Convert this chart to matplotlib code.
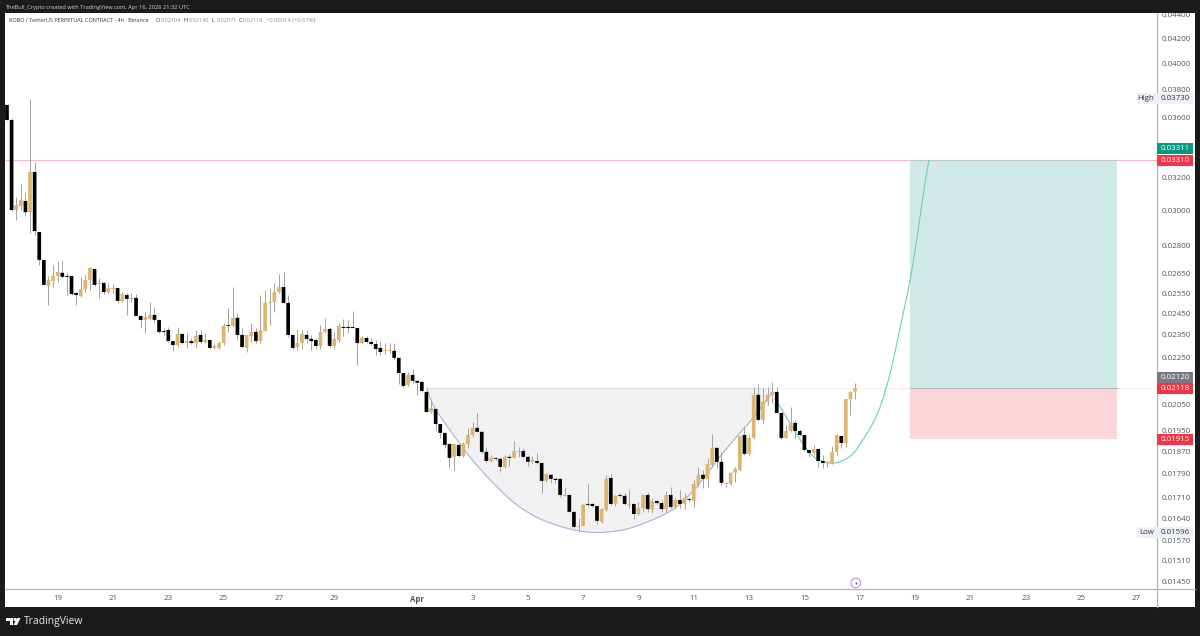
import numpy as np
import matplotlib
matplotlib.use('Agg')
import matplotlib.pyplot as plt
from matplotlib.patches import Rectangle, Polygon, Circle, PathPatch
from matplotlib.path import Path
from matplotlib.ticker import NullLocator, NullFormatter

plt.rcParams['font.family'] = ['Open Sans', 'DejaVu Sans']

# 4h candles
opens = [
    .03687, .03580, .03001, .03025, .03055, .02989, .03233, .02875, .02722, .02587,
    .02612, .02638, .02654, .02638, .02638, .02551, .02536, .02571, .02617, .02674,
    .02597, .02602, .02556, .02571, .02576, .02512, .02541, .02522, .02527, .02439,
    .02420, .02425, .02444, .02420, .02368, .02373, .02322, .02304, .02355, .02313,
    .02322, .02313, .02350, .02318, .02327, .02291, .02291, .02313, .02396, .02392,
    .02430, .02350, .02291, .02345, .02364, .02322, .02368, .02502, .02507, .02556,
    .02581, .02502, .02350, .02295, .02313, .02350, .02332, .02327, .02300, .02364,
    .02378, .02300, .02327, .02387, .02387, .02387, .02382, .02313, .02336, .02318,
    .02309, .02291, .02278, .02278, .02278, .02247, .02181, .02131, .02173, .02148,
    .02144, .02102, .02021, .02033, .01974, .01940, .01898, .01851, .01895, .01854,
    .01898, .01932, .01959, .01944, .01869, .01836, .01847, .01844, .01815, .01851,
    .01847, .01869, .01872, .01851, .01833, .01836, .01829, .01766, .01787, .01773,
    .01773, .01715, .01718, .01662, .01614, .01617, .01688, .01688, .01681, .01630,
    .01668, .01776, .01688, .01718, .01715, .01685, .01688, .01655, .01675, .01718,
    .01671, .01698, .01691, .01671, .01718, .01678, .01701, .01688, .01704, .01698,
    .01752, .01787, .01773, .01822, .01884, .01833, .01755, .01755, .01794, .01804,
    .01932, .01862, .01921, .02090, .01990, .02061, .02090, .02102, .02017, .01921,
    .01947, .01978, .01947, .01932, .01876, .01865, .01880, .01836, .01829, .01829,
    .01869, .01928, .01902, .02073, .02104]
highs = [
    .03687, .03594, .03079, .03158, .03103, .03730, .03297, .02875, .02722, .02638,
    .02695, .02717, .02722, .02654, .02638, .02556, .02633, .02643, .02685, .02680,
    .02627, .02607, .02602, .02597, .02576, .02556, .02551, .02551, .02546, .02444,
    .02458, .02507, .02483, .02420, .02382, .02387, .02327, .02387, .02355, .02359,
    .02336, .02373, .02373, .02359, .02327, .02313, .02322, .02406, .02478, .02581,
    .02454, .02382, .02350, .02406, .02382, .02541, .02566, .02576, .02602, .02648,
    .02659, .02541, .02350, .02378, .02373, .02373, .02350, .02336, .02396, .02430,
    .02387, .02364, .02406, .02425, .02420, .02463, .02382, .02345, .02345, .02336,
    .02327, .02322, .02313, .02313, .02313, .02247, .02181, .02186, .02198, .02148,
    .02144, .02106, .02069, .02033, .01974, .01940, .01902, .01898, .01895, .01906,
    .01959, .01982, .02017, .01944, .01887, .01858, .01851, .01847, .01858, .01862,
    .01910, .01887, .01884, .01858, .01854, .01865, .01829, .01794, .01790, .01776,
    .01773, .01745, .01718, .01662, .01642, .01688, .01755, .01691, .01681, .01675,
    .01787, .01790, .01718, .01725, .01725, .01738, .01688, .01694, .01721, .01728,
    .01708, .01701, .01698, .01732, .01745, .01708, .01735, .01725, .01711, .01769,
    .01815, .01804, .01847, .01936, .01884, .01869, .01762, .01797, .01815, .01932,
    .01963, .01932, .02123, .02135, .02119, .02123, .02144, .02123, .02017, .01971,
    .02041, .01990, .01955, .01932, .01876, .01895, .01880, .01858, .01836, .01891,
    .01936, .01928, .02073, .02106, .02140]
lows = [
    .03580, .02995, .02943, .03001, .02966, .02869, .02858, .02695, .02592, .02492,
    .02581, .02607, .02627, .02541, .02541, .02492, .02532, .02556, .02566, .02587,
    .02527, .02546, .02551, .02551, .02502, .02507, .02444, .02507, .02439, .02382,
    .02359, .02420, .02411, .02359, .02350, .02318, .02278, .02295, .02309, .02291,
    .02309, .02291, .02313, .02313, .02286, .02286, .02286, .02304, .02364, .02387,
    .02327, .02291, .02273, .02318, .02313, .02313, .02368, .02396, .02458, .02551,
    .02502, .02341, .02286, .02282, .02286, .02313, .02282, .02286, .02286, .02359,
    .02295, .02291, .02318, .02345, .02359, .02382, .02216, .02309, .02313, .02304,
    .02260, .02260, .02264, .02269, .02238, .02135, .02123, .02127, .02140, .02090,
    .02102, .02021, .02017, .01951, .01921, .01884, .01815, .01800, .01851, .01851,
    .01884, .01925, .01944, .01865, .01833, .01833, .01840, .01797, .01811, .01818,
    .01847, .01851, .01847, .01818, .01829, .01826, .01725, .01762, .01759, .01759,
    .01711, .01715, .01662, .01611, .01598, .01617, .01681, .01678, .01623, .01627,
    .01665, .01685, .01681, .01711, .01685, .01675, .01639, .01652, .01662, .01662,
    .01659, .01688, .01662, .01662, .01675, .01675, .01675, .01671, .01694, .01678,
    .01745, .01742, .01745, .01815, .01811, .01749, .01745, .01752, .01762, .01800,
    .01858, .01854, .01917, .01986, .01978, .02049, .02057, .02017, .01917, .01921,
    .01944, .01921, .01928, .01872, .01851, .01858, .01815, .01811, .01815, .01826,
    .01858, .01884, .01887, .02009, .02071]
closes = [
    .03580, .03001, .03031, .03061, .02989, .03233, .02880, .02722, .02592, .02617,
    .02638, .02659, .02633, .02633, .02546, .02541, .02571, .02617, .02680, .02592,
    .02602, .02556, .02576, .02576, .02512, .02546, .02522, .02527, .02439, .02420,
    .02434, .02444, .02420, .02364, .02364, .02322, .02304, .02355, .02313, .02322,
    .02313, .02345, .02318, .02327, .02291, .02300, .02313, .02392, .02392, .02430,
    .02350, .02295, .02350, .02364, .02322, .02373, .02502, .02507, .02556, .02581,
    .02502, .02350, .02291, .02313, .02355, .02332, .02322, .02300, .02364, .02378,
    .02300, .02332, .02392, .02382, .02382, .02382, .02313, .02336, .02318, .02309,
    .02286, .02273, .02282, .02282, .02247, .02181, .02127, .02173, .02148, .02140,
    .02106, .02021, .02037, .01974, .01940, .01895, .01847, .01898, .01854, .01898,
    .01932, .01959, .01944, .01869, .01836, .01847, .01844, .01815, .01851, .01847,
    .01872, .01872, .01851, .01833, .01840, .01829, .01766, .01790, .01773, .01769,
    .01718, .01718, .01662, .01614, .01617, .01685, .01685, .01681, .01633, .01671,
    .01773, .01688, .01715, .01715, .01688, .01688, .01655, .01675, .01718, .01671,
    .01698, .01691, .01671, .01718, .01678, .01701, .01688, .01708, .01701, .01755,
    .01787, .01773, .01826, .01884, .01833, .01759, .01759, .01794, .01808, .01928,
    .01862, .01921, .02090, .01990, .02061, .02090, .02102, .02017, .01921, .01947,
    .01978, .01947, .01932, .01876, .01865, .01880, .01836, .01829, .01833, .01869,
    .01932, .01902, .02073, .02102, .02118]

# hand drawn arcs: bar position, price
cup_bars = [91.1, 91.8, 93.3, 95, 97, 98.9, 100.7, 102.6, 105, 107.6, 110, 112.4, 115.4, 118.4, 121,
            123.9, 127.5, 130.8, 134, 137.3, 140.6, 144.5, 147, 149.7, 152.5, 155.3, 158.4, 161.6, 163.8, 166.2]
cup_prices = [.02118, .02069, .02021, .01978, .01928, .01884, .01844, .01808, .01766, .01725, .01691, .01665,
              .01640, .01623, .01611, .01601, .01595, .01598, .01604, .01620, .01639, .01668, .01701, .01745,
              .01804, .01865, .01928, .01990, .02045, .02102]
handle_bars = [167.2, 169.2, 171.4, 173.1, 174.8, 177, 179.2, 181.3, 183.5, 185, 186.8, 188.7, 190.5,
               192.2, 193.9, 195.9, 197.4, 198.7, 200]
handle_prices = [.02057, .01998, .01932, .01887, .01851, .01833, .01826, .01836, .01858, .01895, .01944,
                 .02002, .02098, .02225, .02396, .02602, .02830, .03079, .03310]

target = 0.03310
entry = 0.02118
rim = 0.02120
stop = 0.01915
box_bars = [196, 240.9]

price_ticks = [.044, .042, .040, .038, .036, .032, .030, .028, .0265, .0255, .0245, .0235, .0225,
               .0205, .0195, .0187, .0179, .0171, .0164, .0157, .0151, .0145]
price_labels = ['%.5f' % p for p in price_ticks]
time_ticks = [11, 23, 35, 47, 59, 71, 89, 101, 113, 125, 137, 149, 161, 173, 185, 197, 209, 221, 233, 245]
time_labels = ['19', '21', '23', '25', '27', '29', 'Apr', '3', '5', '7', '9', '11', '13', '15', '17',
               '19', '21', '23', '25', '27']

W, H = 1200, 636
DARK = '#1b1b1b'
GOLD = '#deb56c'
GRID = '#b4b4b8'
TEXT = '#50535e'


def smooth_line(xs, ys, color):
    # quadratic curves through the midpoints, so the arc draws without corners
    verts = [(xs[0], ys[0])]
    codes = [Path.MOVETO]
    for i in range(1, len(xs) - 1):
        end = ((xs[i] + xs[i + 1]) / 2, (ys[i] + ys[i + 1]) / 2)
        verts += [(xs[i], ys[i]), end]
        codes += [Path.CURVE3, Path.CURVE3]
    verts.append((xs[-1], ys[-1]))
    codes.append(Path.LINETO)
    return PathPatch(Path(verts, codes), fc='none', ec=color, lw=0.8, zorder=2)


fig = plt.figure(figsize=(12, 6.36), dpi=100, facecolor=DARK)
fig.add_artist(Rectangle((5 / W, 1 - 607 / H), 1190 / W, 594 / H, transform=fig.transFigure,
                         fc='white', ec='none', zorder=-1))
ax = fig.add_axes([5 / W, 1 - 589 / H, 1152 / W, 576 / H], facecolor='white')
ax.set_yscale('log')
ax.set_xlim(-0.43, 249.5)
ax.set_ylim(0.01429, 0.04414)

# position boxes and cup
ax.fill_between(box_bars, entry, target, color='#cfeae4', lw=0, zorder=1)
ax.fill_between(box_bars, stop, entry, color='#fad5d9', lw=0, zorder=1)
ax.plot(box_bars, [target, target], color='#c4c8c8', lw=0.8, zorder=1.5)
ax.plot(box_bars, [entry, entry], color='#b8b8b8', lw=0.8, zorder=1.5)
ax.fill_between(cup_bars, cup_prices, rim, color='#f1f1f1', lw=0, zorder=1)
ax.plot([cup_bars[0], cup_bars[-1]], [rim, rim], color='#dcdcdc', lw=0.7, zorder=1.5)
ax.axhline(target, color='#f3bcc3', lw=0.8, zorder=1.2)
ax.plot([cup_bars[-1], 249.5], [entry, entry], color='#f8ecec', lw=0.6, zorder=1.2)

ax.add_patch(smooth_line(cup_bars, cup_prices, '#a3b3da'))
ax.add_patch(smooth_line(handle_bars, handle_prices, '#66cdbf'))

# candles
bars = np.arange(len(opens))
o = np.array(opens)
c = np.array(closes)
up = c >= o
ax.vlines(bars, lows, highs, color='#a2a2a2', lw=0.7, zorder=3)
ups = ax.bar(bars[up], (c - o)[up], bottom=o[up], width=0.8, color=GOLD, lw=0, zorder=4)
downs = ax.bar(bars[~up], (o - c)[~up], bottom=c[~up], width=0.8, color='black', lw=0, zorder=4)
for r in list(ups) + list(downs):
    r.set_snap(False)

ax.yaxis.tick_right()
ax.set_yticks(price_ticks, price_labels)
ax.yaxis.set_minor_locator(NullLocator())
ax.yaxis.set_minor_formatter(NullFormatter())
ax.set_xticks(time_ticks, time_labels)
ax.tick_params(axis='y', length=0, pad=3.6, labelsize=5.7, labelcolor=TEXT)
ax.tick_params(axis='x', length=0, pad=4, labelsize=5.7, labelcolor=TEXT)
for t in ax.get_xticklabels():
    if t.get_text() == 'Apr':
        t.set_fontweight('bold')
for s in ('top', 'left'):
    ax.spines[s].set_visible(False)
for s in ('right', 'bottom'):
    ax.spines[s].set_color(GRID)
    ax.spines[s].set_linewidth(0.9)

# overlay in picture pixels for the frame, tags and logo
top = fig.add_axes([0, 0, 1, 1], zorder=5)
top.set_xlim(0, W)
top.set_ylim(H, 0)
top.axis('off')
top.patch.set_alpha(0)
top.add_patch(Rectangle((0, 0), W, 13, fc=DARK, ec='none'))
top.plot([1157, 1195], [589, 589], color=GRID, lw=0.9)
top.plot([1157, 1157], [589, 607], color=GRID, lw=0.9)


def price_y(p):
    return H - ax.transData.transform((0, p))[1]


def tag(price, color, text_color='white', dy=0):
    y = price_y(price) + dy
    top.add_patch(Rectangle((1157, y - 5.5), 36, 11, fc=color, ec='none'))
    top.text(1175, y, '%.5f' % price, color=text_color, fontsize=5.7, ha='center', va='center')


tag(0.03311, '#089981', dy=-11)
tag(target, '#f23645')
tag(rim, '#787b86', dy=-10.5)
tag(entry, '#f23645')
tag(stop, '#f23645')

for name, price in (('High', 0.03730), ('Low', 0.01596)):
    y = price_y(price)
    top.add_patch(Rectangle((1137, y - 5.5), 20, 11, fc='#eef1f7', ec='none'))
    tag(price, '#eef1f7', text_color='#30333d')
    top.text(1154, y, name, color='#30333d', fontsize=5.7, ha='right', va='center')

# header lines
top.text(5, 7, 'TheBull_Crypto created with TradingView.com, Apr 16, 2026 21:32 UTC',
         color='#d6d6d6', fontsize=4.1, va='center')
top.text(9, 20.5, 'ROBO / TetherUS PERPETUAL CONTRACT · 4h · Binance', color='#30333d', fontsize=4, va='center')
for x, name, val in ((156, 'O', '0.02104'), (184, 'H', '0.02140'), (212, 'L', '0.02071'), (238.5, 'C', '0.02118')):
    top.text(x, 20.5, name, color='#30333d', fontsize=4, va='center')
    top.text(x + 4.5, 20.5, val, color='#8a8d96', fontsize=4, va='center')
top.text(266, 20.5, '+0.00014 (+0.67%)', color='#8a8d96', fontsize=4.2, va='center')

# event marker on the time scale
top.add_patch(Circle((855.7, 583), 4.8, fc='white', ec='#bd7fcf', lw=0.7))
top.plot([855.7], [583], marker='o', ms=1.5, color='#8a4a9c', mew=0)

# TradingView logo
top.add_patch(Polygon([(6, 618), (13, 618), (13, 625), (10, 625), (10, 621), (6, 621)], fc='white', ec='none'))
top.add_patch(Circle((15, 619.5), 1.5, fc='white', ec='none'))
top.add_patch(Polygon([(17, 618), (20.5, 618), (17, 625), (13.5, 625)], fc='white', ec='none'))
top.text(24, 621.5, 'TradingView', color='#e8e8e8', fontsize=7.5, va='center')

fig.savefig('out.png', dpi=100, facecolor=DARK)
